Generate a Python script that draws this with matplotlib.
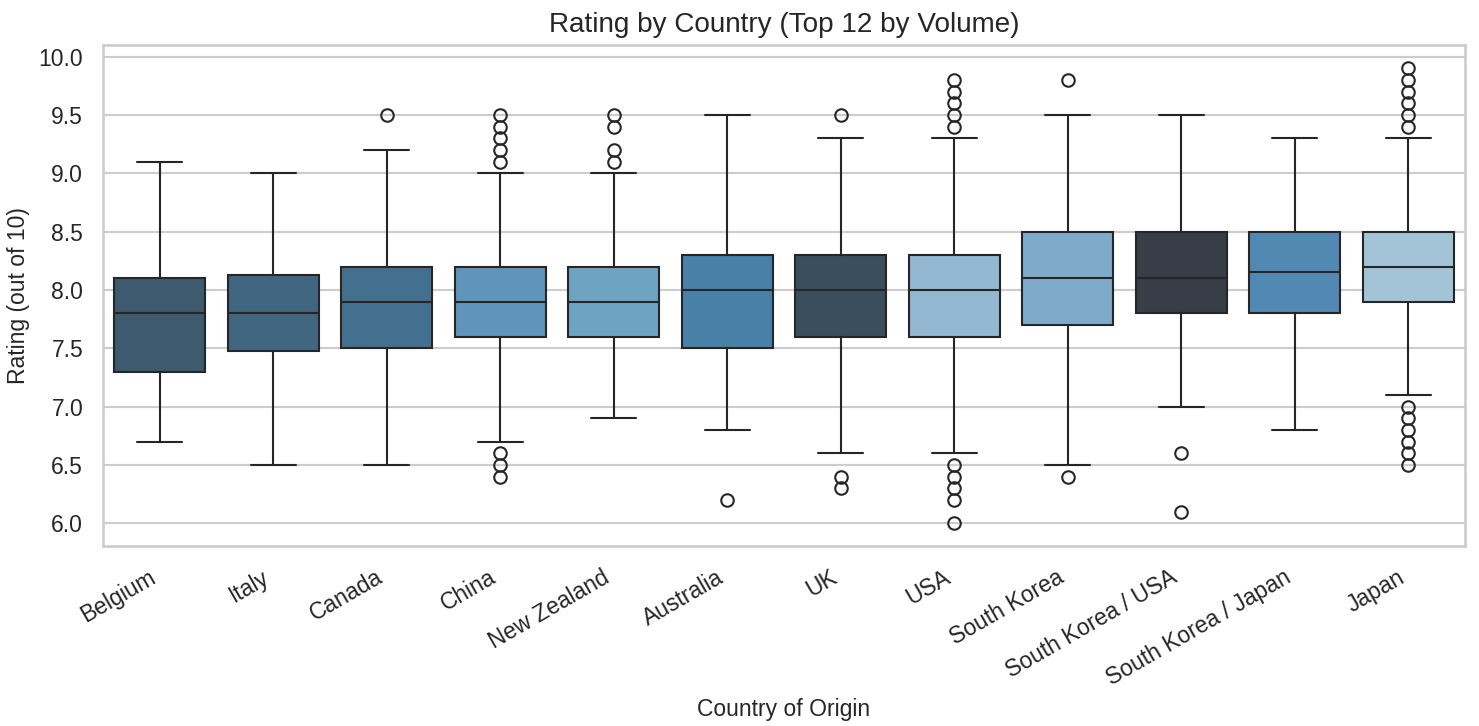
import numpy as np
import matplotlib
matplotlib.use('Agg')
from matplotlib import pyplot as plt
import seaborn as sns

countries = ['Belgium', 'Italy', 'Canada', 'China', 'New Zealand', 'Australia',
             'UK', 'USA', 'South Korea', 'South Korea / USA', 'South Korea / Japan', 'Japan']
q1 = [7.3, 7.48, 7.5, 7.6, 7.6, 7.5, 7.6, 7.6, 7.7, 7.8, 7.8, 7.9]
med = [7.8, 7.8, 7.9, 7.9, 7.9, 8.0, 8.0, 8.0, 8.1, 8.1, 8.15, 8.2]
q3 = [8.1, 8.13, 8.2, 8.2, 8.2, 8.3, 8.3, 8.3, 8.5, 8.5, 8.5, 8.5]
whislo = [6.7, 6.5, 6.5, 6.7, 6.9, 6.8, 6.6, 6.6, 6.5, 7.0, 6.8, 7.1]
whishi = [9.1, 9.0, 9.2, 9.0, 9.0, 9.5, 9.3, 9.3, 9.5, 9.5, 9.3, 9.3]
fliers = [
    [],
    [],
    [9.5],
    [9.1, 9.2, 9.3, 9.4, 9.5, 6.6, 6.5, 6.4],
    [9.1, 9.2, 9.4, 9.5],
    [6.2],
    [9.5, 6.4, 6.3],
    [9.4, 9.5, 9.6, 9.7, 9.8, 6.5, 6.4, 6.3, 6.2, 6.0],
    [9.8, 6.4],
    [6.6, 6.1],
    [],
    [9.4, 9.5, 9.6, 9.7, 9.8, 9.9, 7.0, 6.9, 6.8, 6.7, 6.6, 6.5],
]
colors = ['#3d5a6e', '#416680', '#44708f', '#5f94bb', '#6fa3c4', '#4880a8',
          '#3a4e5e', '#93b8d2', '#7eabc9', '#373e47', '#5289b3', '#a3c3d7']

sns.set_theme(style='whitegrid')
plt.rcParams['font.family'] = ['Liberation Sans', 'DejaVu Sans']

fig = plt.figure(figsize=(1479 / 150, 726 / 150), dpi=150)
ax = fig.add_axes([103 / 1479, 1 - 546 / 726, 1362 / 1479, 501 / 726])

stats = []
for i in range(len(countries)):
    stats.append(dict(label=countries[i], q1=q1[i], med=med[i], q3=q3[i],
                      whislo=whislo[i], whishi=whishi[i], fliers=fliers[i]))

lc = '#262626'
lw = 1.0
bp = ax.bxp(stats, positions=np.arange(len(countries)), widths=0.8,
            patch_artist=True, manage_ticks=False,
            boxprops=dict(edgecolor=lc, linewidth=lw),
            medianprops=dict(color=lc, linewidth=lw),
            whiskerprops=dict(color=lc, linewidth=lw),
            capprops=dict(color=lc, linewidth=lw),
            flierprops=dict(marker='o', markerfacecolor='none', markeredgecolor=lc,
                            markersize=6, markeredgewidth=lw))
for patch, c in zip(bp['boxes'], colors):
    patch.set_facecolor(c)

ax.set_xlim(-0.5, len(countries) - 0.5)
ax.set_ylim(5.805, 10.1)
ax.set_xticks(np.arange(len(countries)))
ax.set_xticklabels(countries, rotation=30, ha='right', fontsize=11)
ax.set_yticks([6.0, 6.5, 7.0, 7.5, 8.0, 8.5, 9.0, 9.5, 10.0])
ax.set_yticklabels(['6.0', '6.5', '7.0', '7.5', '8.0', '8.5', '9.0', '9.5', '10.0'], fontsize=11)
ax.xaxis.grid(False)
ax.set_title('Rating by Country (Top 12 by Volume)', fontsize=13.4)
ax.set_xlabel('Country of Origin', fontsize=11)
ax.set_ylabel('Rating (out of 10)', fontsize=11)

fig.savefig('out.png', dpi=150)
